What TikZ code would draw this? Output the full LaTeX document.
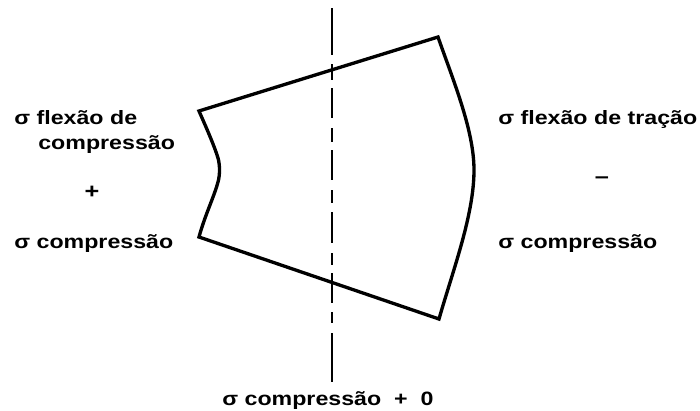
\documentclass[tikz,border=0pt]{standalone}
\usepackage{fontspec}
\setmainfont[FakeStretch=1.2]{Liberation Sans}
\begin{document}
\begin{tikzpicture}[
    x=0.02cm, y=-0.02cm,
    label/.style={font=\fontsize{11}{12}\selectfont\bfseries, inner sep=0pt, anchor=base west},
    sign/.style={font=\fontsize{12}{12}\selectfont\bfseries, inner sep=0pt, anchor=base},
    outline/.style={line width=1.9pt, line join=miter},
    axis/.style={line width=1.1pt}
]
\useasboundingbox (0,0) rectangle (700,410);

% Corners of the section
\coordinate (tl) at (199,111);
\coordinate (tr) at (438,37);
\coordinate (br) at (439,319);
\coordinate (bl) at (199,237);

% Section outline
\draw[outline] (tl) -- (tr) .. controls (453,80) and (474,130) .. (474,170)
    .. controls (474,215) and (453,270) .. (br) -- (bl)
    .. controls (205,215) and (214,197) .. (218,182)
    .. controls (220,175) and (220,165) .. (218,158)
    .. controls (214,145) and (206,127) .. (tl) -- cycle;

% Neutral axis
\foreach \ya/\yb in {8/55,64/80,88/118,128/142,150/180,190/203,212/243,253/265,273/303,312/323,333/382}
    \draw[axis] (332,\ya) -- (332,\yb);

% Left labels
\node[label] (lf) at (14,124) {σ flexão de};
\node[label] (lc) at (38,149) {compressão};
\node[sign] (lp) at (92,198) {+};
\node[label] (ls) at (14,248) {σ compressão};

% Right labels
\node[label] (rf) at (498,124) {σ flexão de tração};
\node[sign] (rm) at (602,183) {–};
\node[label] (rs) at (498,248) {σ compressão};

% Bottom label
\node[label] (bt) at (222,405) {σ compressão\ \ + \ 0};
\end{tikzpicture}
\end{document}
